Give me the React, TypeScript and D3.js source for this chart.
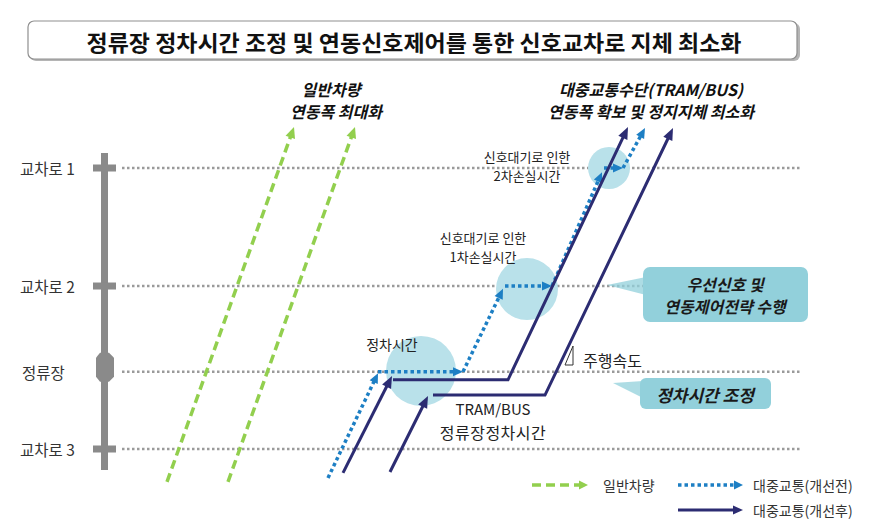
import React from "react";
import * as d3 from "d3";

// ---------- data (time units, distance units) ----------
const locations = ["교차로 1", "교차로 2", "정류장", "교차로 3"];
const locationDist = [10, 5.8, 2.75, 0];

// general traffic progression (green dashed)
const generalTraffic: [number, number][][] = [
  [[12.4, -1.17], [37.8, 11.46]],
  [[24.6, -1.17], [50.0, 11.46]],
];

// transit before improvement (blue dotted), each segment ends in an arrow
const transitBefore: [number, number][][] = [
  [[44.6, -1.03], [54.6, 2.7]],
  [[54.6, 2.75], [71.6, 2.75]],
  [[71.6, 2.75], [79.6, 5.7]],
  [[80.0, 5.8], [89.4, 5.8]],
  [[89.4, 5.8], [99.4, 9.85]],
  [[99.8, 10], [103.6, 10]],
  [[103.6, 10], [108.0, 11.42]],
];

// transit after improvement (navy solid)
const transitAfter: [number, number][][] = [
  [[47.6, -0.85], [57.4, 2.6]],
  [[57.6, 2.46], [80.6, 2.46], [104.6, 11.46]],
  [[57.0, -0.82], [64.6, 1.89]],
  [[65.6, 1.92], [88.0, 1.92], [113.6, 11.42]],
];

// delay circles: centre time, distance, radius (time units)
const delayT = [63.2, 84.4, 100.8];
const delayD = [2.78, 5.69, 10];
const delayR = [7, 6.2, 4.2];

const titleText = "정류장 정차시간 조정 및 연동신호제어를 통한 신호교차로 지체 최소화";
const legendLabels = ["일반차량", "대중교통(개선전)", "대중교통(개선후)"];

// ---------- styling ----------
const W = 874;
const H = 532;
const FONT = "'Noto Sans CJK KR', 'Noto Sans', sans-serif";
const GREEN = "#92cf4e";
const BLUE = "#1d7fc4";
const NAVY = "#2c2c72";
const GRAY = "#8a8a8a";
const CIRCLE = "#b9e1ea";
const CALLOUT = "#92d0db";

const x = d3.scaleLinear().domain([0, 140]).range([105, 805]);
const y = d3.scaleLinear().domain([0, 10]).range([449, 168]);

type P = [number, number];

function arrow(pts: P[], L: number, w: number) {
  const n = pts.length;
  const p0 = pts[n - 2];
  const p1 = pts[n - 1];
  const dx = p1[0] - p0[0];
  const dy = p1[1] - p0[1];
  const len = Math.hypot(dx, dy);
  const ux = dx / len;
  const uy = dy / len;
  const base: P = [p1[0] - ux * L, p1[1] - uy * L];
  const lineEnd: P = [p1[0] - ux * (L - 1), p1[1] - uy * (L - 1)];
  const linePts = [...pts.slice(0, n - 1), lineEnd];
  const px = -uy;
  const py = ux;
  const headPts = [
    p1,
    [base[0] + px * w, base[1] + py * w],
    [base[0] - px * w, base[1] - py * w],
  ];
  const line = d3.line<P>()(linePts) || "";
  const head = "M" + headPts.map((p) => p.join(",")).join("L") + "Z";
  return { line, head };
}

function toPx(seg: [number, number][]): P[] {
  return seg.map(([t, d]) => [x(t), y(d)] as P);
}

type LineStyle = { color: string; width: number; dash?: string; L: number; w: number };

function Arrow({ pts, s }: { pts: P[]; s: LineStyle }) {
  const a = arrow(pts, s.L, s.w);
  return (
    <g>
      <path d={a.line} fill="none" stroke={s.color} strokeWidth={s.width} strokeDasharray={s.dash} />
      <path d={a.head} fill={s.color} />
    </g>
  );
}

const greenStyle: LineStyle = { color: GREEN, width: 3.5, dash: "9 5", L: 11, w: 5 };
const blueStyle: LineStyle = { color: BLUE, width: 3.5, dash: "3.5 3", L: 10, w: 4.5 };
const navyStyle: LineStyle = { color: NAVY, width: 3, L: 12, w: 5 };

export default function App() {
  const guideX0 = 122;
  const guideX1 = 802;
  return (
    <svg
      width={W}
      height={H}
      viewBox={`0 0 ${W} ${H}`}
      style={{ position: "absolute", left: 0, top: 0, display: "block", background: "#fff" }}
      fontFamily={FONT}
    >
      {/* title box */}
      <rect x={30} y={23} width={770} height={38} rx={6} fill="#b5b5b5" />
      <rect x={28} y={21} width={769} height={38} rx={6} fill="#fff" stroke="#8f8f8f" strokeWidth={1.2} />
      <text
        x={414}
        y={41}
        textAnchor="middle"
        dominantBaseline="central"
        fontSize={22}
        fontWeight={700}
        fill="#111"
        textLength={655}
        lengthAdjust="spacingAndGlyphs"
      >
        {titleText}
      </text>

      {/* subtitles */}
      <g fontWeight={700} fontStyle="italic" fontSize={16} fill="#111" textAnchor="middle">
        <text x={331} y={96}>일반차량</text>
        <text x={336} y={118}>연동폭 최대화</text>
        <text x={651} y={96}>대중교통수단(TRAM/BUS)</text>
        <text x={651} y={118}>연동폭 확보 및 정지지체 최소화</text>
      </g>

      {/* guide lines */}
      {locationDist.map((d, i) => (
        <line
          key={"g" + i}
          x1={guideX0}
          x2={guideX1}
          y1={y(d)}
          y2={y(d)}
          stroke="#9a9a9a"
          strokeWidth={2.5}
          strokeDasharray="2.5 2.5"
        />
      ))}

      {/* axis bar */}
      <rect x={101} y={153} width={7} height={317} fill={GRAY} />
      {locations.map((name, i) =>
        name === "정류장" ? (
          <path
            key={"t" + i}
            d={`M96,${y(locationDist[i]) - 14}L100,${y(locationDist[i]) - 19}L109,${y(locationDist[i]) - 19}L114,${y(locationDist[i]) - 14}L114,${y(locationDist[i]) + 5}L109,${y(locationDist[i]) + 10}L100,${y(locationDist[i]) + 10}L96,${y(locationDist[i]) + 5}Z`}
            fill={GRAY}
          />
        ) : (
          <rect key={"t" + i} x={93} y={y(locationDist[i]) - 3.5} width={23} height={7} fill={GRAY} />
        )
      )}
      {locations.map((name, i) => (
        <text
          key={"l" + i}
          x={name === "정류장" ? 22 : 20}
          y={y(locationDist[i])}
          dominantBaseline="central"
          fontSize={15.5}
          fill="#333"
        >
          {name}
        </text>
      ))}

      {/* delay circles */}
      {delayT.map((t, i) => (
        <circle key={"c" + i} cx={x(t)} cy={y(delayD[i])} r={x(delayR[i]) - x(0)} fill={CIRCLE} />
      ))}

      {/* general traffic */}
      {generalTraffic.map((seg, i) => (
        <Arrow key={"gt" + i} pts={toPx(seg)} s={greenStyle} />
      ))}
      {/* transit before */}
      {transitBefore.map((seg, i) => (
        <Arrow key={"tb" + i} pts={toPx(seg)} s={blueStyle} />
      ))}
      {/* transit after */}
      {transitAfter.map((seg, i) => (
        <Arrow key={"ta" + i} pts={toPx(seg)} s={navyStyle} />
      ))}

      {/* annotations */}
      <g fontSize={13} fill="#222" textAnchor="middle">
        <text x={527} y={162}>신호대기로 인한</text>
        <text x={527} y={181}>2차손실시간</text>
        <text x={483} y={243}>신호대기로 인한</text>
        <text x={483} y={262}>1차손실시간</text>
      </g>
      <text x={392} y={350} fontSize={14} fill="#222" textAnchor="middle">정차시간</text>
      <text x={493} y={415} fontSize={15} fill="#222" textAnchor="middle">TRAM/BUS</text>
      <text x={493} y={439} fontSize={16} fill="#222" textAnchor="middle" letterSpacing={0.5}>정류장정차시간</text>

      {/* speed triangle */}
      <path d="M565,365L573,346L573,365Z" fill="none" stroke="#333" strokeWidth={1} />
      <text x={583} y={360} dominantBaseline="central" fontSize={16} fill="#222">주행속도</text>

      {/* callouts */}
      <path d="M607,285L646,277L646,295Z" fill={CALLOUT} opacity={0.75} />
      <rect x={643} y={267} width={165} height={55} rx={7} fill={CALLOUT} />
      <g fontWeight={700} fontStyle="italic" fontSize={16} fill="#1a1a1a" textAnchor="middle">
        <text x={725} y={291}>우선신호 및</text>
        <text x={725} y={313}>연동제어전략 수행</text>
      </g>
      <path d="M613,383L643,381L643,398Z" fill={CALLOUT} opacity={0.75} />
      <rect x={640} y={378} width={131} height={31} rx={6} fill={CALLOUT} />
      <text
        x={705}
        y={394}
        dominantBaseline="central"
        textAnchor="middle"
        fontWeight={700}
        fontStyle="italic"
        fontSize={17}
        fill="#1a1a1a"
      >
        정차시간 조정
      </text>

      {/* legend */}
      <Arrow pts={[[532, 485], [588, 485]]} s={{ ...greenStyle, L: 9, w: 4.5 }} />
      <text x={603} y={485} dominantBaseline="central" fontSize={14} fill="#333">{legendLabels[0]}</text>
      <Arrow pts={[[678, 485], [743, 485]]} s={{ ...blueStyle, L: 9, w: 4.5 }} />
      <text x={753} y={485} dominantBaseline="central" fontSize={14} fill="#333">{legendLabels[1]}</text>
      <Arrow pts={[[678, 510], [743, 510]]} s={{ ...navyStyle, L: 10, w: 4.5 }} />
      <text x={753} y={510} dominantBaseline="central" fontSize={14} fill="#333">{legendLabels[2]}</text>
    </svg>
  );
}
